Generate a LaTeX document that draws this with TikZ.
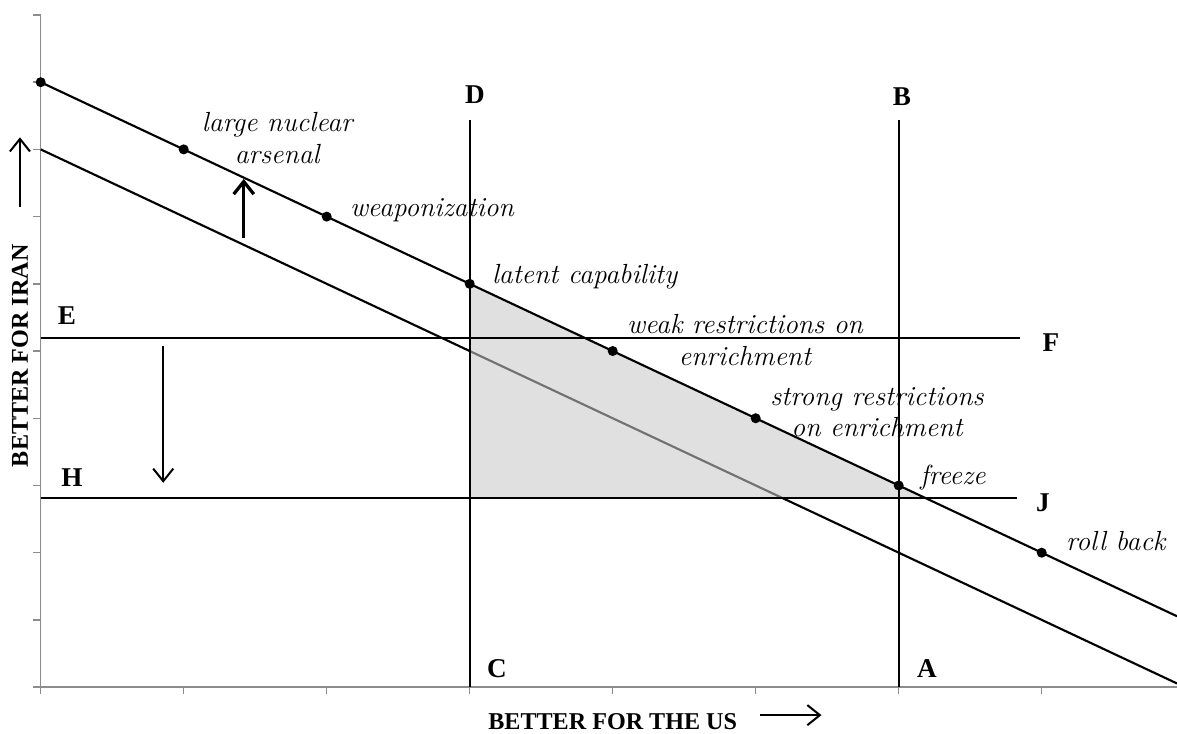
\documentclass[tikz,border=0pt]{standalone}
\usepackage{fontspec}
\newfontfamily\titlefont{Liberation Serif}
\usetikzlibrary{arrows.meta}
\begin{document}
\begin{tikzpicture}[
      x=2cm, y=0.94cm,
      axisline/.style={draw=black!45,line width=0.6pt},
      budget/.style={draw=black,line width=0.85pt},
      dotmark/.style={circle,fill=black,inner sep=0pt,minimum size=4pt},
      deal/.style={font=\fontsize{11}{12.6}\selectfont\itshape,align=center,inner sep=1pt},
      letter/.style={font=\titlefont\fontsize{10.8}{12}\selectfont\bfseries,inner sep=0pt},
      axtitle/.style={font=\titlefont\fontsize{9.6}{11}\selectfont\bfseries,inner sep=0pt},
      push/.style={-{Straight Barb[length=5pt,width=8pt]},line width=0.8pt},
      ]
      \useasboundingbox (-0.2846,-0.6845) rectangle (7.946,10.223);
      \draw[axisline] (0,10) -- (0,0) -- (7.946,0);
      \foreach \y in {0,...,10}
        \draw[axisline] (0,\y) -- ++(-0.056,0);
      \foreach \x in {0,...,7}
        \draw[axisline] (\x,0) -- ++(0,-0.104);
      \coordinate (hi0) at (0,9);
      \coordinate (hi1) at (7.946,1.054);
      \coordinate (lo0) at (0,8);
      \coordinate (lo1) at (7.946,0.054);
      \coordinate (C) at (3,0);
      \coordinate (D) at (3,8.44);
      \coordinate (A) at (6,0);
      \coordinate (B) at (6,8.44);
      \coordinate (E) at (0,5.19);
      \coordinate (F) at (6.85,5.19);
      \coordinate (H) at (0,2.81);
      \coordinate (J) at (6.83,2.81);
      \coordinate (cut) at (6.19,2.81);
      \draw[budget] (lo0) -- (lo1);
      \fill[black!21,fill opacity=0.57] (3,6) -- (C |- H) -- (cut) -- cycle;
      \draw[budget] (hi0) -- (hi1);
      \draw[budget] (C) -- (D);
      \draw[budget] (A) -- (B);
      \draw[budget] (E) -- (F);
      \draw[budget] (H) -- (J);
      \foreach \k in {0,...,7}
        \node[dotmark] (p\k) at (\k,9-\k) {};
      \node[deal] (arsenal) at (1.654,8.17) {large nuclear\\arsenal};
      \node[deal,anchor=west] (weapon) at (2.142,7.10) {weaponization};
      \node[deal,anchor=west] (latent) at (3.135,6.10) {latent capability};
      \node[deal] (weak) at (4.925,5.164) {weak restrictions on\\enrichment};
      \node[deal] (strong) at (5.848,4.09) {strong restrictions\\on enrichment};
      \node[deal,anchor=west] (freeze) at (6.13,3.11) {freeze};
      \node[deal,anchor=west] (rollback) at (7.15,2.17) {roll back};
      \node[letter] (labD) at (3.037,8.81) {D};
      \node[letter] (labB) at (6.023,8.78) {B};
      \node[letter] (labE) at (0.184,5.52) {E};
      \node[letter] (labF) at (7.065,5.13) {F};
      \node[letter] (labH) at (0.219,3.11) {H};
      \node[letter] (labJ) at (7.009,2.75) {J};
      \node[letter] (labC) at (3.19,0.28) {C};
      \node[letter] (labA) at (6.198,0.28) {A};
      \node[axtitle] (us) at (4.0,-0.52) {BETTER FOR THE US};
      \node[axtitle,rotate=90] (iran) at (-0.145,4.93) {BETTER FOR IRAN};
      \coordinate (up0) at (1.42,6.68);
      \coordinate (up1) at (1.42,7.56);
      \coordinate (down0) at (0.857,5.07);
      \coordinate (down1) at (0.857,3.04);
      \coordinate (ir0) at (-0.145,7.14);
      \coordinate (ir1) at (-0.145,8.18);
      \coordinate (us0) at (5.03,-0.417);
      \coordinate (us1) at (5.46,-0.417);
      \draw[push,line width=1.3pt] (up0) -- (up1);
      \draw[push] (down0) -- (down1);
      \draw[push] (ir0) -- (ir1);
      \draw[push] (us0) -- (us1);
    \end{tikzpicture}
\end{document}
